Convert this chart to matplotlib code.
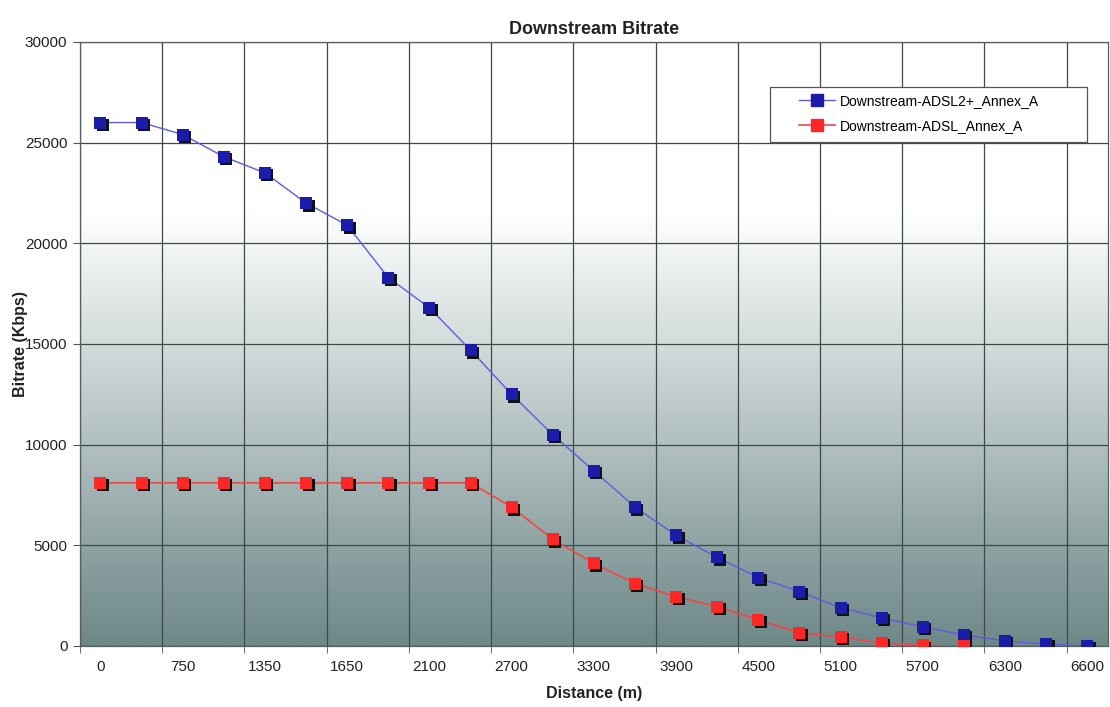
import numpy as np
import matplotlib.pyplot as plt
from matplotlib import transforms
from matplotlib.patches import Rectangle

plt.rcParams['font.family'] = ['Liberation Sans', 'DejaVu Sans']

# Data (25 distance categories, labels shown every other one)
tick_labels = ['0', '750', '1350', '1650', '2100', '2700', '3300',
               '3900', '4500', '5100', '5700', '6300', '6600']
adsl2_plus = [26000, 26000, 25400, 24300, 23500, 22000, 20900, 18300, 16800,
              14700, 12500, 10500, 8700, 6900, 5500, 4400, 3400, 2700, 1900,
              1400, 950, 550, 250, 100, 0]
adsl = [8100, 8100, 8100, 8100, 8100, 8100, 8100, 8100, 8100, 8100, 6900,
        5300, 4100, 3100, 2450, 1950, 1300, 650, 450, 150, 30, 0]

x_blue = np.arange(len(adsl2_plus))
x_red = np.arange(len(adsl))

fig = plt.figure(figsize=(11.1, 7.07), dpi=100)
ax = fig.add_axes([0.072, 0.0863, 0.926, 0.8543])

# gradient background: white at top, grey-teal at bottom
n = 256
frac = np.linspace(1, 0, n)
t = np.clip((0.72 - frac) / 0.72, 0, 1)
top = np.array([255, 255, 255]) / 255
bot = np.array([110, 136, 136]) / 255
grad = top[None, :] * (1 - t[:, None]) + bot[None, :] * t[:, None]
ax.imshow(grad[:, None, :], extent=(-0.5, 24.5, 0, 30000), aspect='auto',
          zorder=0, interpolation='bilinear')

ax.set_xlim(-0.5, 24.5)
ax.set_ylim(0, 30000)

# lines
ax.plot(x_blue, adsl2_plus, color='#5c5ce0', lw=1.0, zorder=2)
ax.plot(x_red, adsl, color='#f04848', lw=1.2, zorder=2)

# marker shadows
shadow = transforms.offset_copy(ax.transData, fig=fig, x=2.5, y=-2.5, units='dots')
ax.plot(x_blue, adsl2_plus, 's', color='#111111', ms=9, mew=0, transform=shadow, zorder=3)
ax.plot(x_red, adsl, 's', color='#111111', ms=9, mew=0, transform=shadow, zorder=3)
ax.plot(x_blue, adsl2_plus, 's', color='#1c1caa', ms=9, mew=0, zorder=4)
ax.plot(x_red, adsl, 's', color='#ff2626', ms=9, mew=0, zorder=4)

# legend: wide Excel-style box drawn separately
ax.add_patch(Rectangle((0.671, 0.834), 0.309, 0.091, transform=ax.transAxes,
                       facecolor='white', edgecolor='#555555', lw=0.9, zorder=5))
h1, = ax.plot([], [], '-s', color='#5c5ce0', mfc='#1c1caa', mec='#1c1caa', ms=9, lw=1.0,
              label='Downstream-ADSL2+_Annex_A')
h2, = ax.plot([], [], '-s', color='#f04848', mfc='#ff2626', mec='#ff2626', ms=9, lw=1.2,
              label='Downstream-ADSL_Annex_A')
leg = ax.legend(handles=[h1, h2], loc='upper left', bbox_to_anchor=(0.695, 0.9217),
                fontsize=10, frameon=False, handlelength=2.6, borderpad=0.35,
                labelspacing=0.75, handletextpad=0.3, borderaxespad=0)
leg.set_zorder(6)

# axes ticks and grid
ax.set_xticks(np.arange(0, 25, 2))
ax.set_xticklabels(tick_labels)
ax.set_xticks(np.arange(-0.5, 25, 2), minor=True)
ax.tick_params(axis='x', which='major', length=0, pad=10, labelsize=11, colors='#222222')
ax.tick_params(axis='x', which='minor', length=5, color='#555555', direction='out')
ax.set_yticks(np.arange(0, 30001, 5000))
ax.tick_params(axis='y', length=5, pad=4, labelsize=11, colors='#222222')
ax.tick_params(axis='y', color='#555555')

ax.grid(True, which='minor', axis='x', color='#3e4a4a', lw=0.9)
ax.grid(True, which='major', axis='y', color='#3e4a4a', lw=0.9)
for s in ax.spines.values():
    s.set_color('#555f5f')
    s.set_linewidth(0.9)

ax.set_xlabel('Distance (m)', fontsize=11.5, fontweight='bold', labelpad=9, color='#222222')
ax.set_ylabel('Bitrate (Kbps)', fontsize=11.5, fontweight='bold', labelpad=-2, color='#222222')
ax.set_title('Downstream Bitrate', fontsize=13, fontweight='bold', pad=6, color='#222222')

fig.savefig('out.png', dpi=100)
